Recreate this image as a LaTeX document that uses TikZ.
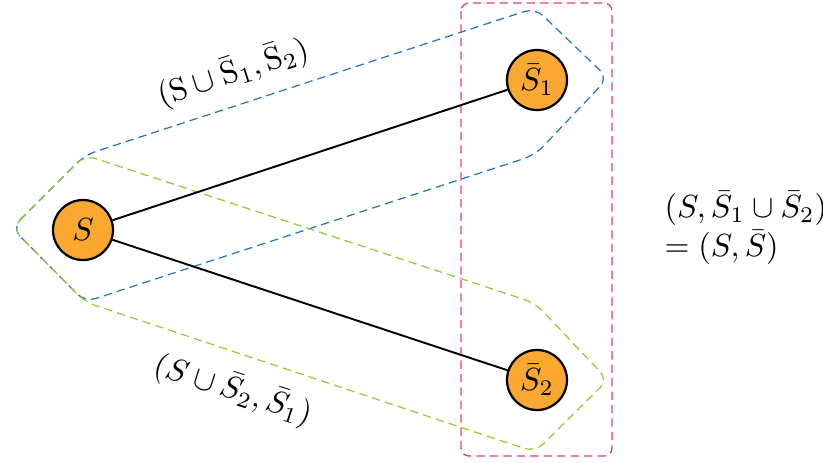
\documentclass[tikz,border=0pt]{standalone}
\usepackage{amsmath}
\definecolor{nodeorange}{RGB}{250,168,50}
\definecolor{hullblue}{RGB}{35,115,190}
\definecolor{hullgreen}{RGB}{150,200,50}
\definecolor{hullred}{RGB}{238,60,100}
\tikzset{
  vert/.style={circle,draw=black,line width=0.7pt,fill=nodeorange,minimum size=18.75pt,inner sep=0pt},
  link/.style={line width=0.6pt,black},
  hull/.style={dashed,dash pattern=on 2.6pt off 1.6pt,line width=0.38pt,rounded corners=3.5pt},
}
\begin{document}
\begin{tikzpicture}[x=0.3125pt,y=-0.3125pt]
\useasboundingbox (0,0) rectangle (823,462);
% hulls
\draw[hull,hullblue] (12,228) -- (85,155) -- (535,8) -- (608,78) -- (535,155) -- (85,302) -- cycle;
\draw[hull,hullgreen] (12,228) -- (85,155) -- (535,303) -- (608,380) -- (535,452) -- (85,302) -- cycle;
\draw[hull,hullred,line width=0.42pt,rounded corners=2.5pt] (461,3) rectangle (612,456);
% nodes
\node[vert] (s) at (83,230) {$S$};
\node[vert] (s1) at (537,80) {$\bar{S}_1$};
\node[vert] (s2) at (537,380) {$\bar{S}_2$};
\draw[link] (s) -- (s1);
\draw[link] (s) -- (s2);
% labels
\node[rotate=18] (l1) at (233,73) {$(\mathrm{S}\cup\bar{\mathrm{S}}_1,\bar{\mathrm{S}}_2)$};
\node[rotate=-18] (l2) at (233,390) {$(S\cup\bar{S}_2,\bar{S}_1)$};
\node[anchor=west,align=left,inner sep=0pt] (l3) at (664,228) {$(S,\bar{S}_1\cup\bar{S}_2)$\\$=(S,\bar{S})$};
\end{tikzpicture}
\end{document}
